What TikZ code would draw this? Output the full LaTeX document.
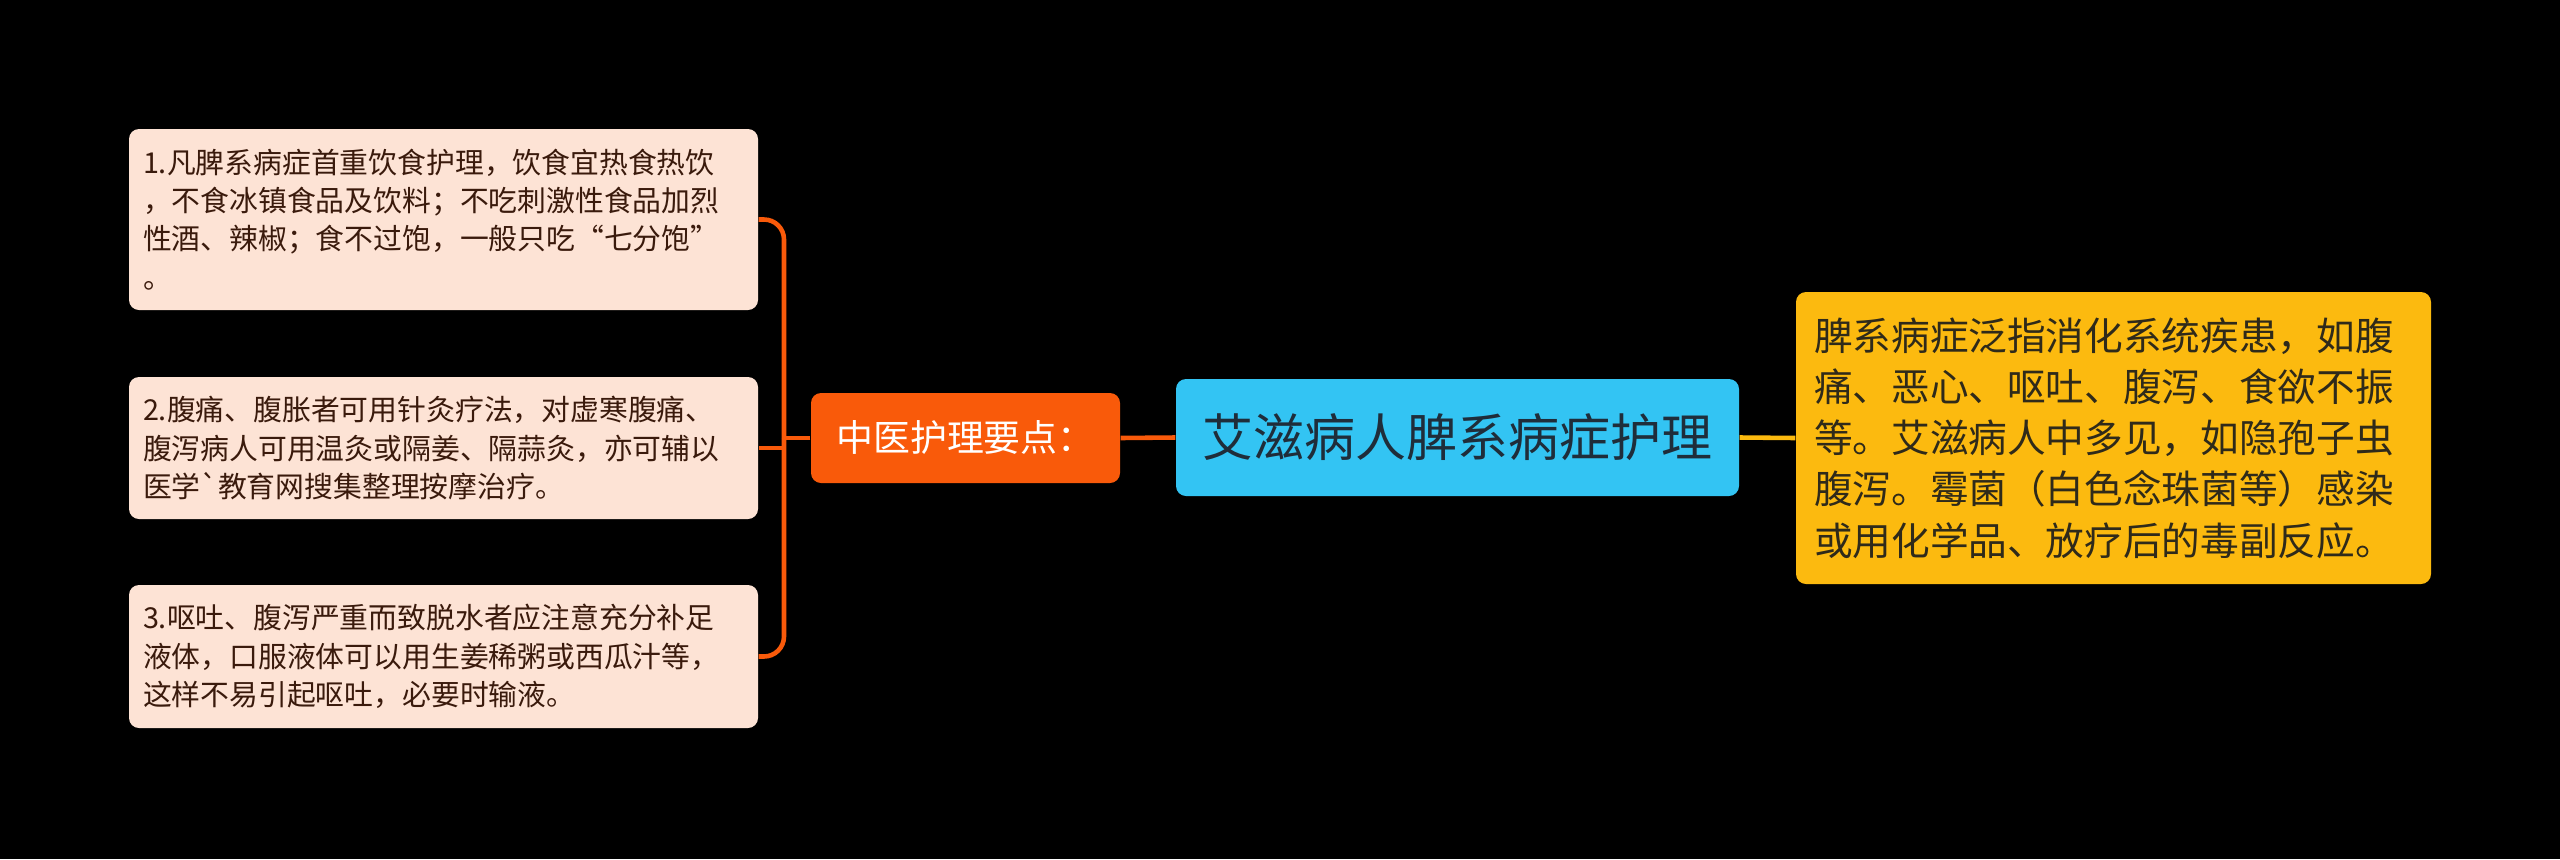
\documentclass[tikz,border=0pt]{standalone}
\usepackage{fontspec}
\setmainfont{Noto Sans CJK SC}
\usetikzlibrary{calc}
\definecolor{peach}{HTML}{FDE3D5}
\definecolor{peachtext}{HTML}{3A1A0C}
\definecolor{midorange}{HTML}{F95A0A}
\definecolor{rootblue}{HTML}{33C4F3}
\definecolor{roottext}{HTML}{1F2D3A}
\definecolor{sideyellow}{HTML}{FCBA0F}
\definecolor{sidetext}{HTML}{2F2A1A}
\tikzset{
    notebox/.style={fill=peach, text=peachtext, rounded corners=0.1cm,
        align=left, text width=6.01cm, inner xsep=0.14cm, inner ysep=0pt,
        font=\fontsize{8.2}{10.9}\selectfont},
    midbox/.style={fill=midorange, text=white, rounded corners=0.1cm,
        minimum width=3.09cm, minimum height=0.90cm,
        font=\fontsize{10.5}{12}\selectfont},
    rootbox/.style={fill=rootblue, text=roottext, rounded corners=0.1cm,
        minimum width=5.63cm, minimum height=1.17cm,
        font=\fontsize{14.5}{16}\selectfont},
    sidebox/.style={fill=sideyellow, text=sidetext, rounded corners=0.1cm,
        align=left, text width=5.99cm, inner xsep=0.18cm, inner ysep=0pt,
        minimum height=2.92cm, font=\fontsize{11}{14.6}\selectfont},
    orangeline/.style={draw=midorange, line width=1.3pt},
    yellowline/.style={draw=sideyellow, line width=1.3pt}
}

\begin{document}
\begin{tikzpicture}
\useasboundingbox[fill=black] (0,0) rectangle (25.6,8.59);

\node[rootbox] (root) at (14.575,4.215) {艾滋病人脾系病症护理};
\node[midbox] (mid) at (9.655,4.21) {中医护理要点：};
\node[sidebox] (side) at (21.135,4.21) {脾系病症泛指消化系统疾患，如腹\\痛、恶心、呕吐、腹泻、食欲不振\\等。艾滋病人中多见，如隐孢子虫\\腹泻。霉菌（白色念珠菌等）感染\\或用化学品、放疗后的毒副反应。};

\node[notebox, minimum height=1.81cm] (n1) at (4.435,6.395) {1.凡脾系病症首重饮食护理，饮食宜热食热饮\\，不食冰镇食品及饮料；不吃刺激性食品加烈\\性酒、辣椒；食不过饱，一般只吃“七分饱”\\。};
\node[notebox, minimum height=1.42cm] (n2) at (4.435,4.11) {2.腹痛、腹胀者可用针灸疗法，对虚寒腹痛、\\腹泻病人可用温灸或隔姜、隔蒜灸，亦可辅以\\医学\textasciigrave 教育网搜集整理按摩治疗。};
\node[notebox, minimum height=1.43cm] (n3) at (4.435,2.025) {3.呕吐、腹泻严重而致脱水者应注意充分补足\\液体，口服液体可以用生姜稀粥或西瓜汁等，\\这样不易引起呕吐，必要时输液。};

\coordinate (fork) at (7.84,4.21);

\draw[yellowline] (root.east) -- (side.west);
\draw[orangeline] (root.west) -- (mid.east);
\draw[orangeline] (mid.west) -- (fork);
\draw[orangeline, rounded corners=0.2cm] (fork) |- (n1.east);
\draw[orangeline, rounded corners=0.2cm] (fork) |- (n3.east);
\draw[orangeline] (n2.east -| fork) -- (n2.east);
\end{tikzpicture}
\end{document}
